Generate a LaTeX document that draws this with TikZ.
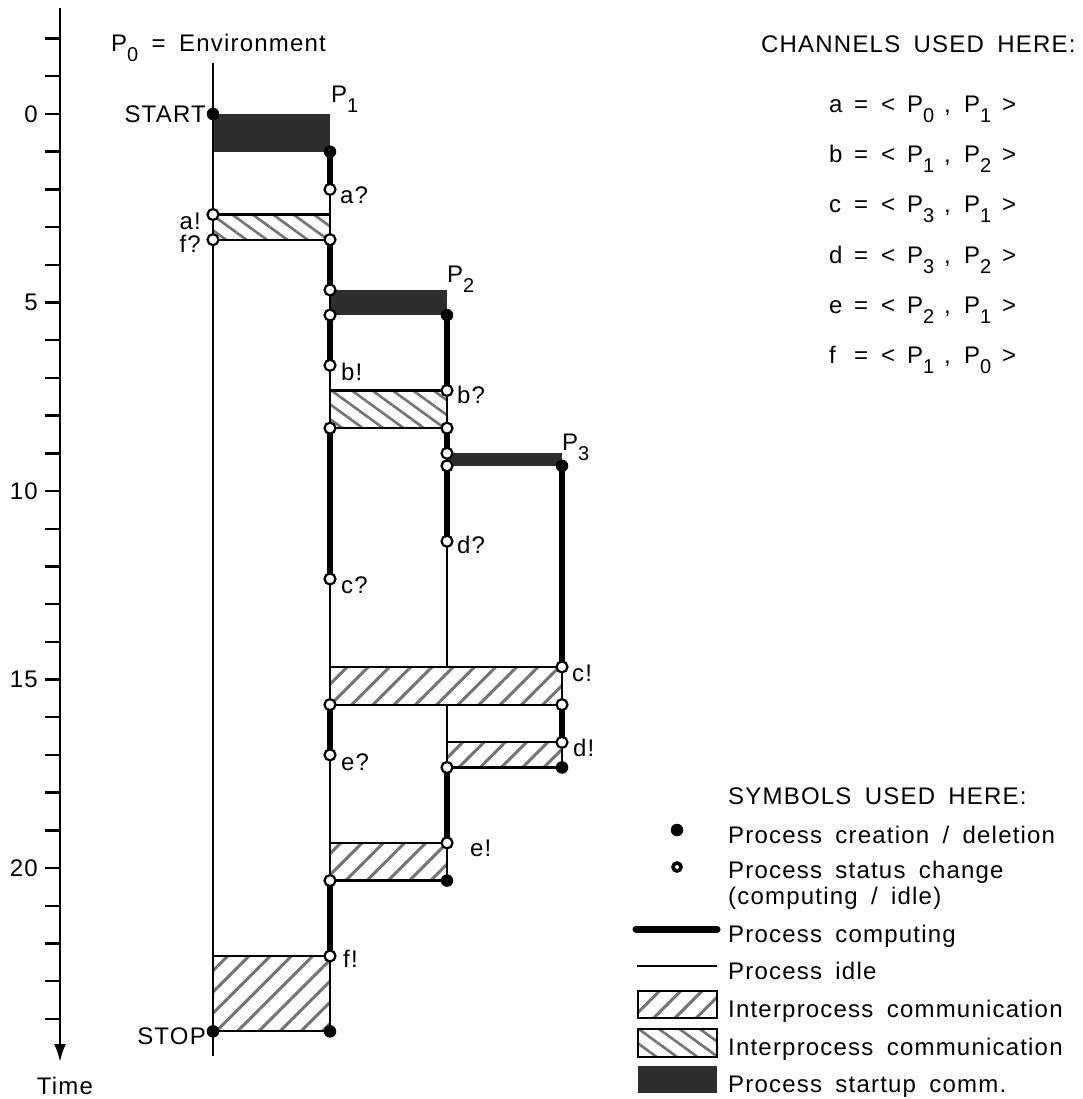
\documentclass[tikz,border=0pt]{standalone}
\usepackage{fontspec}
\setmainfont{Liberation Sans}[LetterSpace=5,WordSpace=1.7]
\usetikzlibrary{arrows.meta,patterns.meta}
\newcommand\Sb[1]{\raisebox{-10pt}{\fontsize{20}{20}\selectfont #1}}
\newcommand\Bx[2]{\makebox[#1pt][l]{#2}}
\newcommand\Chan[3]{\Bx{25}{#1}\Bx{27}{=}\Bx{26}{<}\Bx{37}{P\Sb{#2}}\Bx{20}{,}\Bx{38}{P\Sb{#3}}>}
\def\T#1{(114+37.7*(#1))}
\begin{document}
\begin{tikzpicture}[x=1pt,y=-1pt,
  every node/.style={inner sep=0pt,font=\fontsize{24}{28}\selectfont},
  idle/.style={line width=2.3pt},
  busy/.style={line width=6.5pt},
  boxline/.style={line width=2.2pt},
  hatchA/.style={pattern={Lines[angle=45,distance=15pt,line width=3pt]},pattern color=black!55},
  hatchB/.style={pattern={Lines[angle=-36,distance=12pt,line width=2.6pt]},pattern color=black!55},
  startup/.style={fill=black!82},
  opn/.style={circle,draw,fill=white,line width=2.2pt,minimum size=11pt,inner sep=0pt},
  cls/.style={circle,fill=black,minimum size=12.5pt,inner sep=0pt},
  lblw/.style={anchor=west},
  lble/.style={anchor=east},
  txt/.style={anchor=base west}]
\useasboundingbox (0,0) rectangle (1082,1099);
\fill[white] (0,0) rectangle (1082,1099);

% ---- time axis ----
\coordinate (axtop) at (60,8);
\coordinate (axbot) at (60,1062);
\draw[line width=2.6pt,-{Latex[length=18pt,width=12pt]}] (axtop) -- (axbot);
\foreach \i in {-2,...,24} \draw[line width=2.4pt] (45,{\T{\i}}) -- (60,{\T{\i}});
\foreach \i in {0,5,10,15,20} \node[lble] (tick\i) at (38,{\T{\i}}) {\i};
\node (time) at (65,1086) {Time};

% ---- coordinates ----
% P0
\coordinate (p0top) at (213,63);
\coordinate (p0bot) at (213,1056);
\coordinate (s0) at (213,{\T{0}});
\coordinate (a0t) at (213,{\T{8/3}});
\coordinate (a0b) at (213,{\T{10/3}});
\coordinate (f0t) at (213,{\T{67/3}});
\coordinate (stop0) at (213,{\T{73/3}});
% P1
\coordinate (cr1) at (330,{\T{1}});
\coordinate (aq) at (330,{\T{2}});
\coordinate (a1b) at (330,{\T{10/3}});
\coordinate (s2t) at (330,{\T{14/3}});
\coordinate (s2b) at (330,{\T{16/3}});
\coordinate (bx) at (330,{\T{20/3}});
\coordinate (b1t) at (330,{\T{22/3}});
\coordinate (b1b) at (330,{\T{25/3}});
\coordinate (cq) at (330,{\T{37/3}});
\coordinate (c1t) at (330,{\T{44/3}});
\coordinate (c1b) at (330,{\T{47/3}});
\coordinate (eq) at (330,{\T{17}});
\coordinate (e1t) at (330,{\T{58/3}});
\coordinate (e1b) at (330,{\T{61/3}});
\coordinate (fx) at (330,{\T{67/3}});
\coordinate (stop1) at (330,{\T{73/3}});
% P2
\coordinate (cr2) at (447,{\T{16/3}});
\coordinate (bq) at (447,{\T{22/3}});
\coordinate (b2b) at (447,{\T{25/3}});
\coordinate (s3t) at (447,{\T{9}});
\coordinate (s3b) at (447,{\T{28/3}});
\coordinate (dq) at (447,{\T{34/3}});
\coordinate (c2t) at (447,{\T{44/3}});
\coordinate (c2b) at (447,{\T{47/3}});
\coordinate (d2t) at (447,{\T{50/3}});
\coordinate (d2b) at (447,{\T{52/3}});
\coordinate (ex) at (447,{\T{58/3}});
\coordinate (del2) at (447,{\T{61/3}});
% P3
\coordinate (cr3) at (562,{\T{28/3}});
\coordinate (cx) at (562,{\T{44/3}});
\coordinate (c3b) at (562,{\T{47/3}});
\coordinate (dx) at (562,{\T{50/3}});
\coordinate (del3) at (562,{\T{52/3}});

% ---- communication boxes ----
\fill[startup] (s0) rectangle (cr1);
\fill[startup] (s2t) rectangle (cr2);
\fill[startup] (s3t) rectangle (cr3);
\draw[boxline,hatchB] (a0t) rectangle (a1b);
\draw[boxline,hatchB] (b1t) rectangle (b2b);
\draw[boxline,hatchA] (c1t) rectangle (c3b);
\draw[boxline,hatchA] (d2t) rectangle (del3);
\draw[boxline,hatchA] (e1t) rectangle (del2);
\draw[boxline,hatchA] (f0t) rectangle (stop1);

% ---- process lines ----
\draw[idle] (p0top) -- (p0bot);
\draw[idle] (cr1) -- (stop1);
\draw[idle] (cr2) -- (c2t);
\draw[idle] (c2b) -- (del2);
\draw[idle] (cr3) -- (del3);
\foreach \a/\b in {cr1/aq,a1b/s2t,s2b/bx,b1b/cq,c1b/eq,e1b/fx,
                   cr2/bq,b2b/s3t,s3b/dq,d2b/ex,cr3/cx,c3b/dx}
  \draw[busy] (\a) -- (\b);

% ---- events ----
\foreach \p in {s0,cr1,cr2,cr3,del3,del2,stop0,stop1}
  \node[cls] (n-\p) at (\p) {};
\foreach \p in {a0t,a0b,aq,a1b,s2t,s2b,bx,b1b,cq,c1b,eq,e1b,fx,
                bq,b2b,s3t,s3b,dq,d2b,ex,cx,c3b,dx}
  \node[opn] (n-\p) at (\p) {};

% ---- labels ----
\node[txt] (lp0) at (111,52) {P\Sb{0} = Environment};
\node[txt] (lp1) at (331,103) {P\Sb{1}};
\node[txt] (lp2) at (447,282) {P\Sb{2}};
\node[txt] (lp3) at (562,450) {P\Sb{3}};
\node[lble] (lstart) at (206,114) {START};
\node[lble] (lstop) at (206,1036) {STOP};
\node[lble] (la0) at (201,221) {a!};
\node[lble] (lf0) at (201,244) {f?};
\node[lblw] (laq) at (340,195) {a?};
\node[lblw] (lbx) at (341,372) {b!};
\node[lblw] (lbq) at (457,395) {b?};
\node[lblw] (ldq) at (457,545) {d?};
\node[lblw] (lcq) at (341,585) {c?};
\node[lblw] (lcx) at (572,673) {c!};
\node[lblw] (ldx) at (573,748) {d!};
\node[lblw] (leq) at (341,762) {e?};
\node[lblw] (lex) at (470,848) {e!};
\node[lblw] (lfx) at (343,959) {f!};

% ---- channels ----
\node[txt] (chh) at (761,53) {CHANNELS USED HERE:};
\node[txt] (cha) at (829,113) {\Chan{a}{0}{1}};
\node[txt] (chb) at (829,163) {\Chan{b}{1}{2}};
\node[txt] (chc) at (829,213) {\Chan{c}{3}{1}};
\node[txt] (chd) at (829,263) {\Chan{d}{3}{2}};
\node[txt] (che) at (829,313) {\Chan{e}{2}{1}};
\node[txt] (chf) at (829,363) {\Chan{f}{1}{0}};

% ---- legend ----
\node[txt] (sym) at (728,804) {SYMBOLS USED HERE:};
\node[cls] (lgdot) at (677,830) {};
\node[txt] (lgdott) at (728,843) {Process creation / deletion};
\node[circle,draw,fill=white,line width=3.6pt,minimum size=8pt] (lgring) at (677,867) {};
\node[txt] (lgringt) at (728,878) {Process status change};
\node[txt] (lgringt2) at (728,904) {(computing / idle)};
\coordinate (lgb1) at (636,929); \coordinate (lgb2) at (717,929);
\draw[line width=7pt,line cap=round] (lgb1) -- (lgb2);
\node[txt] (lgbt) at (728,942) {Process computing};
\coordinate (lgi1) at (637,966); \coordinate (lgi2) at (717,966);
\draw[idle] (lgi1) -- (lgi2);
\node[txt] (lgit) at (728,979) {Process idle};
\coordinate (lha1) at (638,991); \coordinate (lha2) at (717,1018);
\draw[boxline,hatchA] (lha1) rectangle (lha2);
\node[txt] (lhat) at (728,1017) {Interprocess communication};
\coordinate (lhb1) at (638,1029); \coordinate (lhb2) at (717,1057);
\draw[boxline,hatchB] (lhb1) rectangle (lhb2);
\node[txt] (lhbt) at (728,1055) {Interprocess communication};
\coordinate (lhs1) at (638,1066); \coordinate (lhs2) at (717,1093);
\fill[startup] (lhs1) rectangle (lhs2);
\node[txt] (lhst) at (728,1092) {Process startup comm.};
\end{tikzpicture}
\end{document}
